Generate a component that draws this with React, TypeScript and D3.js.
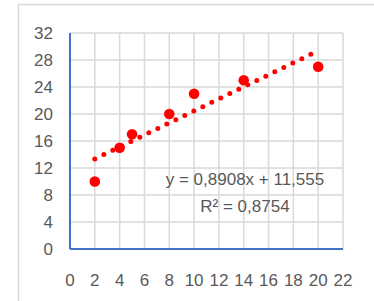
import React from "react";
import * as d3 from "d3";

const xValues = [2, 4, 5, 8, 10, 14, 20];
const yValues = [10, 15, 17, 20, 23, 25, 27];
const xTicks = [0, 2, 4, 6, 8, 10, 12, 14, 16, 18, 20, 22];
const yTicks = [0, 4, 8, 12, 16, 20, 24, 28, 32];
const equationLabel = "y = 0,8908x + 11,555";
const r2Label = "R² = 0,8754";

export default function App() {
  const width = 374;
  const height = 301;
  const plot = { left: 70, top: 33, right: 343, bottom: 249 };

  const xScale = d3.scaleLinear().domain([0, 22]).range([plot.left, plot.right]);
  const yScale = d3.scaleLinear().domain([0, 32]).range([plot.bottom, plot.top]);

  // least-squares trend line
  const xMean = d3.mean(xValues) as number;
  const yMean = d3.mean(yValues) as number;
  const sxy = d3.sum(xValues, (x, i) => (x - xMean) * (yValues[i] - yMean));
  const sxx = d3.sum(xValues, (x) => (x - xMean) ** 2);
  const slope = sxy / sxx;
  const intercept = yMean - slope * xMean;
  const xMin = d3.min(xValues) as number;
  const xMax = d3.max(xValues) as number;
  const trend = d3
    .line<number>()
    .x((x) => xScale(x))
    .y((x) => yScale(slope * x + intercept))([xMin, xMax]);

  const font = "'Liberation Sans', Arial, sans-serif";
  const labelX = xScale(14.1);

  return (
    <svg
      width={width}
      height={height}
      style={{ position: "absolute", left: 0, top: 0, background: "#fff" }}
    >
      {/* chart border, cropped */}
      <rect x={18.5} y={4.5} width={420} height={400} fill="#fff" stroke="#d9d9d9" strokeWidth={1.5} />

      {/* grid */}
      <g stroke="#d9d9d9" strokeWidth={1.5}>
        {xTicks.map((t) => (
          <line key={"x" + t} x1={xScale(t)} x2={xScale(t)} y1={plot.top} y2={plot.bottom} />
        ))}
        {yTicks.map((t) => (
          <line key={"y" + t} x1={plot.left} x2={plot.right} y1={yScale(t)} y2={yScale(t)} />
        ))}
      </g>

      {/* axes */}
      <g stroke="#4472c4" strokeWidth={2}>
        <line x1={plot.left} x2={plot.left} y1={plot.top} y2={plot.bottom} />
        <line x1={plot.left} x2={plot.right} y1={plot.bottom} y2={plot.bottom} />
      </g>

      {/* tick labels */}
      <g fill="#595959" fontFamily={font} fontSize={17}>
        {yTicks.map((t) => (
          <text key={t} x={53} y={yScale(t)} textAnchor="end" dy="0.36em">
            {t}
          </text>
        ))}
        {xTicks.map((t) => (
          <text key={t} x={xScale(t)} y={286} textAnchor="middle">
            {t}
          </text>
        ))}
      </g>

      {/* trend line */}
      <path
        d={trend ?? ""}
        fill="none"
        stroke="#ff0000"
        strokeWidth={5}
        strokeLinecap="round"
        strokeDasharray="0 10"
      />

      {/* points */}
      <g fill="#ff0000">
        {xValues.map((x, i) => (
          <circle key={i} cx={xScale(x)} cy={yScale(yValues[i])} r={5.3} />
        ))}
      </g>

      {/* equation */}
      <g fill="#595959" fontFamily={font} fontSize={17} textAnchor="middle">
        <text x={labelX} y={185}>{equationLabel}</text>
        <text x={labelX} y={212}>{r2Label}</text>
      </g>
    </svg>
  );
}
